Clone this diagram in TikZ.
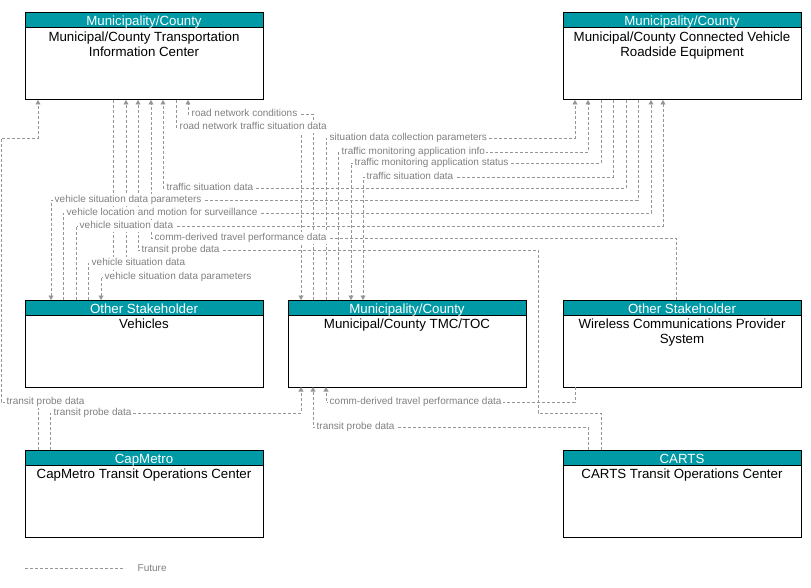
\documentclass[tikz,border=0pt]{standalone}
\usepackage{fontspec}
\setmainfont{Liberation Sans}
\usetikzlibrary{arrows.meta}
\definecolor{hdr}{RGB}{0,153,166}
\definecolor{flowc}{RGB}{150,150,150}
\definecolor{labc}{RGB}{128,128,128}
\newcommand\mkbox[5]{%
  \node[box] (#1) at (#2,#3) {};
  \node[hdrbox] (#1h) at (#2,#3) {};
  \node[hdrtxt] (#1ht) at ({#2+119},{#3+13}) {#4};
  \node[bodytxt] (#1bt) at ({#2+119},{#3+18.3}) {#5};
}
\begin{document}
\begin{tikzpicture}[x=1pt,y=-1pt,
  box/.style={draw=black,line width=1pt,fill=white,minimum width=238pt,minimum height=87pt,inner sep=0pt,outer sep=0pt,anchor=north west},
  hdrbox/.style={draw=black,line width=1pt,fill=hdr,minimum width=238pt,minimum height=15pt,inner sep=0pt,outer sep=0pt,anchor=north west},
  hdrtxt/.style={anchor=base,inner sep=0pt,text=white,font=\fontsize{13.3}{15}\selectfont},
  bodytxt/.style={anchor=north,inner sep=0pt,align=center,text=black,font=\fontsize{13.3}{15}\selectfont},
  flow/.style={draw=flowc,line width=0.8pt,dash pattern=on 3pt off 2pt},
  arr/.style={-{Triangle[width=5pt,length=4.5pt,fill=flowc]}},
  lab/.style={anchor=west,fill=white,text=labc,inner sep=1.5pt,text height=7pt,text depth=2pt,font=\fontsize{10}{11}\selectfont}
]
\useasboundingbox (0,0) rectangle (811,588);

\mkbox{tic}{25}{13}{Municipality/County}{Municipal/County Transportation\\Information Center}
\mkbox{cvre}{563}{13}{Municipality/County}{Municipal/County Connected Vehicle\\Roadside Equipment}
\mkbox{veh}{25}{300}{Other Stakeholder}{Vehicles}
\mkbox{tmc}{288}{300}{Municipality/County}{Municipal/County TMC/TOC}
\mkbox{wcp}{563}{300}{Other Stakeholder}{Wireless Communications Provider\\System}
\mkbox{capm}{25}{450}{CapMetro}{CapMetro Transit Operations Center}
\mkbox{carts}{563}{450}{CARTS}{CARTS Transit Operations Center}

% connectors
\draw[flow,arr] ([xshift=25pt]tmc.north west) |- (188,114) -- ([xshift=163pt]tic.south west);
\draw[flow,arr] ([xshift=151pt]tic.south west) |- (301,127) -- ([xshift=13pt]tmc.north west);
\draw[flow,arr] ([xshift=38pt]tmc.north west) |- (575,138) -- ([xshift=12pt]cvre.south west);
\draw[flow,arr] ([xshift=50pt]tmc.north west) |- (588,152) -- ([xshift=25pt]cvre.south west);
\draw[flow,arr] ([xshift=38pt]cvre.south west) |- (351,163) -- ([xshift=63pt]tmc.north west);
\draw[flow,arr] ([xshift=50pt]cvre.south west) |- (363,177) -- ([xshift=75pt]tmc.north west);
\draw[flow,arr] ([xshift=63pt]cvre.south west) |- (163,188) -- ([xshift=138pt]tic.south west);
\draw[flow,arr] ([xshift=75pt]cvre.south west) |- (51,200) -- ([xshift=26pt]veh.north west);
\draw[flow,arr] ([xshift=38pt]veh.north west) |- (651,213) -- ([xshift=88pt]cvre.south west);
\draw[flow,arr] ([xshift=51pt]veh.north west) |- (663,226) -- ([xshift=100pt]cvre.south west);
\draw[flow,arr] ([xshift=113pt]wcp.north west) |- (151,238) -- ([xshift=126pt]tic.south west);
\draw[flow,arr] ([xshift=38pt]carts.north west) |- (538,413) |- (138,250) -- ([xshift=113pt]tic.south west);
\draw[flow,arr] ([xshift=63pt]veh.north west) |- (126,263) -- ([xshift=101pt]tic.south west);
\draw[flow,arr] ([xshift=88pt]tic.south west) |- (101,277) -- ([xshift=76pt]veh.north west);
\draw[flow,arr] ([xshift=13pt]capm.north west) |- (1,402) |- (38,138) -- ([xshift=13pt]tic.south west);
\draw[flow,arr] ([xshift=25pt]capm.north west) |- (301,413) -- ([xshift=13pt]tmc.south west);
\draw[flow,arr] ([xshift=12pt]wcp.south west) |- (326,402) -- ([xshift=38pt]tmc.south west);
\draw[flow,arr] ([xshift=25pt]carts.north west) |- (313,427) -- ([xshift=25pt]tmc.south west);

% labels
\node[lab] (l1) at (190,114) {road network conditions};
\node[lab] (l2) at (178,127) {road network traffic situation data};
\node[lab] (l3) at (328,138) {situation data collection parameters};
\node[lab] (l4) at (340,152) {traffic monitoring application info};
\node[lab] (l5) at (353,163) {traffic monitoring application status};
\node[lab] (l6) at (365,177) {traffic situation data};
\node[lab] (l7) at (165,188) {traffic situation data};
\node[lab] (l8) at (53,200) {vehicle situation data parameters};
\node[lab] (l9) at (65,213) {vehicle location and motion for surveillance};
\node[lab] (l10) at (78,226) {vehicle situation data};
\node[lab] (l11) at (153,238) {comm-derived travel performance data};
\node[lab] (l12) at (140,250) {transit probe data};
\node[lab] (l13) at (90,263) {vehicle situation data};
\node[lab] (l14) at (103,277) {vehicle situation data parameters};
\node[lab] (l15) at (5,402) {transit probe data};
\node[lab] (l16) at (52,413) {transit probe data};
\node[lab] (l17) at (328,402) {comm-derived travel performance data};
\node[lab] (l18) at (315,427) {transit probe data};

% legend
\coordinate (lg1) at (25,568);
\coordinate (lg2) at (125,568);
\draw[flow] (lg1) -- (lg2);
\node[lab] (lgt) at (136,569) {Future};
\end{tikzpicture}
\end{document}
